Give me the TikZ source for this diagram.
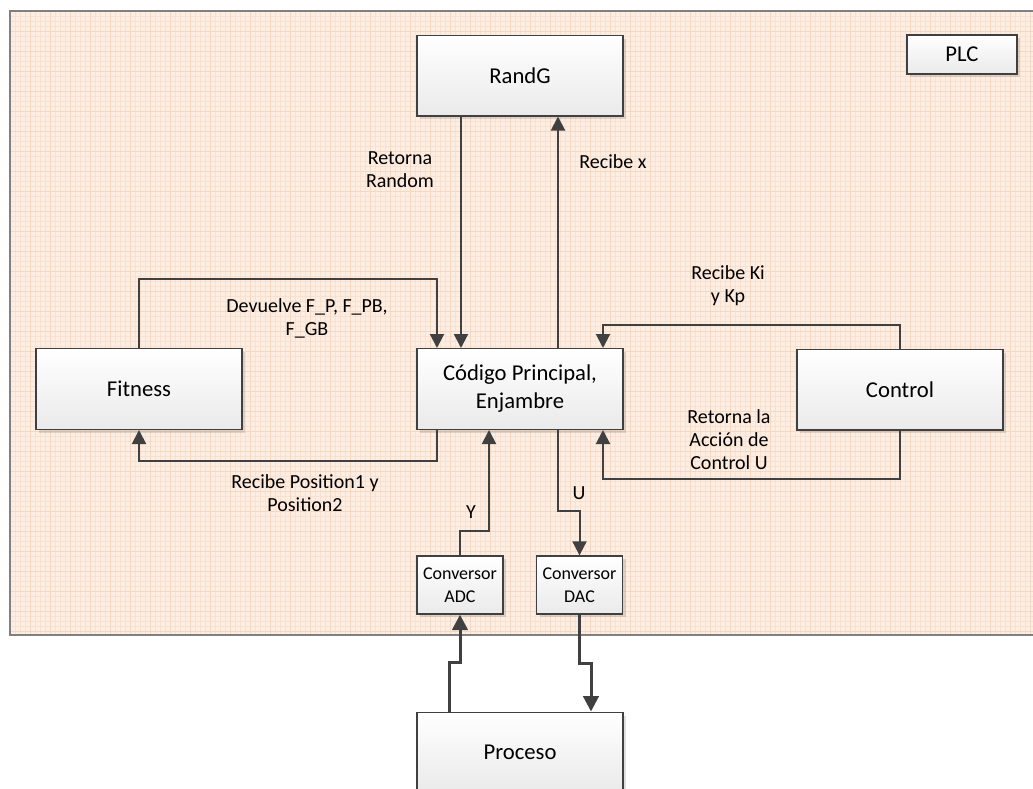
\documentclass[tikz,border=0pt]{standalone}
\usepackage{fontspec}
\setmainfont{Carlito}
\usetikzlibrary{arrows.meta,calc,shadows}
\definecolor{plcfill}{HTML}{FDEEE3}
\definecolor{gridminor}{HTML}{F9E0CF}
\definecolor{gridmajor}{HTML}{F6D7C2}
\definecolor{plcedge}{HTML}{808080}
\definecolor{edge}{HTML}{404040}
\definecolor{boxbottom}{HTML}{EAEAEA}
\begin{document}
\begin{tikzpicture}[x=0.75pt,y=-0.75pt,
  block/.style={draw=edge, line width=1pt, top color=white, bottom color=boxbottom,
    align=center, inner sep=0pt, text=black,
    drop shadow={shadow xshift=2.5pt, shadow yshift=-2.5pt, fill=black, opacity=0.12}},
  bigblock/.style={block, minimum width=154.5pt, minimum height=60.5pt,
    font=\fontsize{17}{21}\selectfont},
  smallblock/.style={block, minimum width=64.5pt, minimum height=43.5pt,
    font=\fontsize{13.5}{17.25}\selectfont},
  tagblock/.style={block, minimum width=82.5pt, minimum height=29.25pt,
    font=\fontsize{17}{21}\selectfont},
  lbl/.style={align=center, inner sep=0pt, text=black,
    font=\fontsize{15}{17.25}\selectfont},
  link/.style={draw=edge, line width=1.5pt,
    -{Triangle[width=10.5pt,length=10.5pt]}},
  heavylink/.style={draw=edge, line width=2.25pt,
    -{Triangle[width=11.5pt,length=11.5pt]}}
]
\useasboundingbox (0,0) rectangle (1033,789);

% PLC area with its grid
\fill[plcfill] (10,11) rectangle (1045,635);
\begin{scope}
  \clip (10,11) rectangle (1045,635);
  \foreach \x in {10,15,...,1045} \draw[gridminor, line width=0.3pt] (\x,11) -- (\x,635);
  \foreach \y in {11,16,...,635} \draw[gridminor, line width=0.3pt] (10,\y) -- (1045,\y);
  \foreach \x in {10,30,...,1045} \draw[gridmajor, line width=0.4pt] (\x,11) -- (\x,635);
  \foreach \y in {11,31,...,635} \draw[gridmajor, line width=0.4pt] (10,\y) -- (1045,\y);
\end{scope}
\draw[plcedge, line width=1.5pt] (1045,11) -- (10,11) -- (10,635) -- (1045,635);

% blocks
\node[bigblock] (rg) at (520,75.5) {RandG};
\node[tagblock] (plc) at (962,54.5) {PLC};
\node[bigblock] (cp) at (520,389) {Código Principal,\\Enjambre};
\node[bigblock] (fit) at (139,389) {Fitness};
\node[bigblock] (ctl) at (900,389.5) {Control};
\node[smallblock] (adc) at (460,585) {Conversor\\ADC};
\node[smallblock] (dac) at (579.5,585) {Conversor\\DAC};
\node[bigblock] (pr) at (520,752.5) {Proceso};

% connectors
\draw[link] ($(rg.south)+(-59,0)$) -- ($(cp.north)+(-59,0)$);
\draw[link] ($(cp.north)+(38,0)$) -- ($(rg.south)+(38,0)$);
\draw[link] (fit.north) -- ++(0,-69) -| ($(cp.north)+(-83,0)$);
\draw[link] ($(cp.south)+(-83,0)$) -- ++(0,31) -| (fit.south);
\draw[link] (ctl.north) -- ++(0,-24) -| ($(cp.north)+(83,0)$);
\draw[link] (ctl.south) -- ++(0,48) -| ($(cp.south)+(83,0)$);
\draw[link] (adc.north) -- ++(0,-24) -| ($(cp.south)+(-31,0)$);
\draw[link] ($(cp.south)+(38,0)$) -- ++(0,81) -| (dac.north);
\draw[heavylink] ($(pr.north)+(-71,0)$) -- ++(0,-49) -| (adc.south);
\draw[heavylink] (dac.south) -- ++(0,49) -| ($(pr.north)+(71,0)$);

% connector labels
\node[lbl] (l1) at (400,170) {Retorna\\Random};
\node[lbl] (l2) at (613,162) {Recibe x};
\node[lbl] (l3) at (307,318) {Devuelve F\_P, F\_PB,\\F\_GB};
\node[lbl] (l4) at (305,493) {Recibe Position1 y\\Position2};
\node[lbl] (l5) at (728,286) {Recibe Ki\\y Kp};
\node[lbl] (l6) at (729,440) {Retorna la\\Acción de\\Control U};
\node[lbl] (l7) at (471,512) {Y};
\node[lbl] (l8) at (579,493) {U};
\end{tikzpicture}
\end{document}
